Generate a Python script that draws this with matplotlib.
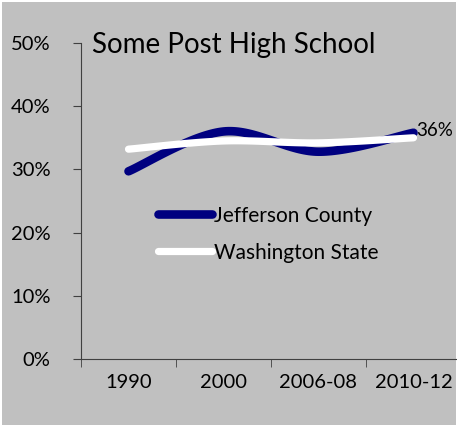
import numpy as np
import matplotlib
matplotlib.use("Agg")
import matplotlib.pyplot as plt
from matplotlib.patches import Rectangle

categories = ["1990", "2000", "2006-08", "2010-12"]
jefferson = [29.7, 36.0, 32.8, 35.8]
washington = [33.2, 34.5, 34.2, 35.0]
last_label = "36%"

bg = "#c0c0c0"
navy = "#000080"


def smooth(x, y, n=40):
    # catmull-rom style smoothing like the spreadsheet "smoothed line"
    x = np.asarray(x, float)
    y = np.asarray(y, float)
    px = np.concatenate([[x[0]], x, [x[-1]]])
    py = np.concatenate([[y[0]], y, [y[-1]]])
    xs, ys = [], []
    for i in range(1, len(px) - 2):
        p0 = np.array([px[i], py[i]])
        p3 = np.array([px[i + 1], py[i + 1]])
        c1 = p0 + (np.array([px[i + 1], py[i + 1]]) - np.array([px[i - 1], py[i - 1]])) / 6
        c2 = p3 - (np.array([px[i + 2], py[i + 2]]) - np.array([px[i], py[i]])) / 6
        t = np.linspace(0, 1, n)[:, None]
        b = (1 - t) ** 3 * p0 + 3 * (1 - t) ** 2 * t * c1 + 3 * (1 - t) * t ** 2 * c2 + t ** 3 * p3
        xs.extend(b[:, 0])
        ys.extend(b[:, 1])
    return np.array(xs), np.array(ys)


plt.rcParams["font.family"] = ["Lato", "DejaVu Sans"]

fig = plt.figure(figsize=(4.57, 4.26), dpi=100, facecolor="white")
fig.patches.append(Rectangle((2 / 457, 1 / 426), 454 / 457, 423 / 426,
                             transform=fig.transFigure, facecolor=bg,
                             edgecolor="none", zorder=-10))

ax = fig.add_axes([81 / 457, 67 / 426, 380 / 457, 316 / 426])
ax.set_facecolor("none")

xpos = np.arange(len(categories))
sx, sy = smooth(xpos, jefferson)
ax.plot(sx, sy, color=navy, lw=6.2, solid_capstyle="round", label="Jefferson County")
sx, sy = smooth(xpos, washington)
ax.plot(sx, sy, color="white", lw=5.2, solid_capstyle="round", label="Washington State")

ax.text(xpos[-1] + 0.03, jefferson[-1] + 0.3, last_label, fontsize=13.5,
        ha="left", va="center", color="black")

ax.set_xlim(-0.5, 3.5)
ax.set_ylim(0, 50)
ax.set_yticks(np.arange(0, 51, 10))
ax.set_yticklabels([f"{v}%" for v in range(0, 51, 10)], fontsize=14.5)
ax.set_xticks(xpos)
ax.set_xticklabels(categories, fontsize=14.5)
ax.set_xticks(np.arange(-0.5, 3.6, 1), minor=True)
ax.tick_params(axis="x", which="major", length=0, pad=11)
ax.tick_params(axis="x", which="minor", length=6, direction="out", color="#404040")
ax.tick_params(axis="y", length=6, direction="out", color="#404040", pad=16)

for s in ["top", "right"]:
    ax.spines[s].set_visible(False)
ax.spines["left"].set_color("#404040")
ax.spines["bottom"].set_color("#404040")

ax.text(0.03, 0.995, "Some Post High School", transform=ax.transAxes,
        fontsize=20, ha="left", va="center")

leg = ax.legend(loc="upper left", bbox_to_anchor=(0.152, 0.545), frameon=False,
                fontsize=15, handlelength=2.6, handletextpad=0.12, labelspacing=0.82)

fig.savefig("out.png", dpi=100, facecolor="white")
